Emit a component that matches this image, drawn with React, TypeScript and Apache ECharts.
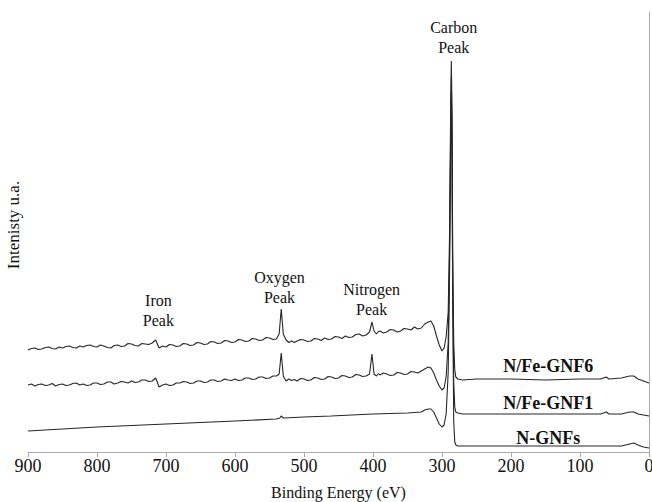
import React, { useEffect, useRef } from "react";
import * as echarts from "echarts";

// Binding energy (eV) / intensity (a.u., offset traces)
const gnf6: [number, number][] = [
  [900, 102], [895, 103.5], [890, 104], [885, 102.5], [880, 103], [875, 104.5], [870, 105], [865, 103.5],
  [860, 103], [855, 105], [850, 104], [845, 105.5], [840, 106], [835, 104.5], [830, 104], [825, 106],
  [820, 105], [815, 106.5], [810, 107], [805, 105.5], [800, 105], [795, 107], [790, 106], [785, 104.5],
  [780, 104], [775, 106.5], [770, 107], [765, 105.5], [760, 106], [755, 108.5], [750, 108], [745, 106.5],
  [740, 106], [735, 108.5], [730, 108], [725, 107.5], [720, 109], [715, 112], [710, 104], [705, 106],
  [700, 105], [695, 107.5], [690, 107], [685, 105.5], [680, 106], [675, 108.5], [670, 108], [665, 106.5],
  [660, 107], [655, 109.5], [650, 109], [645, 107.5], [640, 108], [635, 110.5], [630, 110], [625, 108.5],
  [620, 109], [615, 111.5], [610, 111], [605, 109.5], [600, 110], [595, 112.5], [590, 112], [585, 110.5],
  [580, 111], [575, 113.5], [570, 113], [565, 111.5], [560, 112], [555, 114.5], [550, 114], [545, 112.5],
  [540, 113], [536, 118], [533, 143], [530, 118], [526, 112], [522, 109.5], [518, 111], [514, 109.5],
  [510, 111], [505, 112.5], [500, 112], [495, 110.5], [490, 111], [485, 113.5], [480, 113], [475, 111.5],
  [470, 114], [465, 112.5], [460, 113], [455, 115.5], [450, 115], [445, 113.5], [440, 116], [435, 114.5],
  [430, 115], [425, 117.5], [420, 118], [415, 116], [410, 117], [405, 120], [401.5, 130], [398.5, 121],
  [395, 118], [392, 120.5], [390, 121], [385, 119], [380, 120], [375, 122.5], [370, 122], [365, 120],
  [360, 121], [355, 123.5], [350, 123], [345, 122], [340, 125], [335, 123], [330, 124], [325, 128],
  [320, 130], [316, 131], [312, 126], [308, 116], [304, 107], [300, 101], [297, 104], [294, 115],
  [291, 140], [289, 220], [287.5, 340], [286.5, 391], [285.5, 340], [284.5, 200], [283, 110], [281.5, 82],
  [280, 75], [277, 73], [270, 72], [250, 73], [200, 73], [150, 72], [100, 73], [70, 73], [62, 75],
  [58, 73], [40, 74], [28, 76], [22, 76], [16, 73], [8, 71], [0, 69],
];

const gnf1: [number, number][] = [
  [900, 67], [895, 68], [890, 66], [885, 67.5], [880, 68], [875, 66.5], [870, 67], [865, 68.5],
  [860, 66], [855, 67.5], [850, 68], [845, 66.5], [840, 67], [835, 68.5], [830, 69], [825, 67],
  [820, 68], [815, 66.5], [810, 67], [805, 69], [800, 69], [795, 67.5], [790, 68], [785, 70],
  [780, 70], [775, 68], [770, 69], [765, 70.5], [760, 70], [755, 69], [750, 71], [745, 69.5],
  [740, 70], [735, 72], [730, 72], [725, 70.5], [720, 71], [715, 74], [710, 65], [705, 67],
  [700, 68], [695, 66.5], [690, 67], [685, 69], [680, 69], [675, 70.5], [670, 70], [665, 68.5],
  [660, 69], [655, 71], [650, 71], [645, 69.5], [640, 70], [635, 72], [630, 72], [625, 70.5],
  [620, 71], [615, 73], [610, 72], [605, 71.5], [600, 73], [595, 71.5], [590, 72], [585, 74],
  [580, 74], [575, 72.5], [570, 73], [565, 75], [560, 75], [555, 73.5], [550, 74], [545, 76],
  [540, 76], [536, 78], [533, 99], [530, 76], [526, 71], [522, 73], [518, 71.5], [514, 72.5],
  [510, 71], [505, 73.5], [500, 73], [495, 71.5], [490, 72], [485, 74.5], [480, 74], [475, 72.5],
  [470, 73], [465, 75.5], [460, 75], [455, 73.5], [450, 74], [445, 76.5], [440, 76], [435, 74.5],
  [430, 75], [425, 77.5], [420, 77], [415, 75.5], [410, 76], [405, 78], [401.5, 98], [398.5, 78],
  [395, 76], [392, 78.5], [390, 77], [385, 79], [380, 78], [375, 76.5], [370, 77], [365, 79.5],
  [360, 79], [355, 77.5], [350, 78], [345, 80.5], [340, 80], [335, 79], [330, 81], [325, 83],
  [320, 85], [316, 84], [312, 79], [308, 72], [304, 66], [300, 62], [297, 64], [294, 75],
  [291, 110], [289, 200], [287.5, 320], [286.5, 375], [285.5, 320], [284.5, 170], [283, 70], [281.5, 45],
  [280, 40], [277, 39], [270, 38], [250, 38], [200, 38], [150, 38], [100, 38], [70, 38], [62, 40],
  [58, 38], [40, 38], [28, 40], [22, 40], [16, 38], [8, 37], [0, 36],
];

const ngnfs: [number, number][] = [
  [900, 21], [850, 23], [800, 25], [750, 26.5], [700, 28], [650, 29.5], [600, 31], [540, 33],
  [535, 34], [533, 36], [530, 34], [500, 35], [461, 36], [400, 38], [350, 39], [330, 40],
  [325, 42], [320, 43], [316, 43], [312, 40], [308, 34], [304, 28], [300, 25], [297, 27],
  [294, 38], [291, 80], [289, 180], [287.5, 300], [286.5, 360], [285.5, 300], [284.5, 150],
  [283, 30], [281.5, 10], [280, 7], [277, 6], [200, 6], [100, 6], [40, 6], [28, 8], [22, 9],
  [16, 7], [8, 5], [0, 4],
];

const xTicks = [0, 100, 200, 300, 400, 500, 600, 700, 800, 900];

const peakLabels = [
  { text: "Carbon\nPeak", coord: [283, 415] },
  { text: "Oxygen\nPeak", coord: [535.5, 165] },
  { text: "Iron\nPeak", coord: [711, 142] },
  { text: "Nitrogen\nPeak", coord: [402, 153] },
];

const seriesLabels = [
  { text: "N/Fe-GNF6", coord: [146, 86] },
  { text: "N/Fe-GNF1", coord: [146, 49] },
  { text: "N-GNFs", coord: [146, 14] },
];

const FONT = "Liberation Serif";

export default function App() {
  const ref = useRef<HTMLDivElement>(null);
  useEffect(() => {
    if (!ref.current) return;
    const chart = echarts.init(ref.current, undefined, { renderer: "svg" });
    const lineStyle = { color: "#262626", width: 1.1 };
    const mk = (arr: { text: string; coord: number[] }[], bold: boolean, size: number) => ({
      symbol: "circle",
      symbolSize: 1,
      itemStyle: { color: "rgba(0,0,0,0)" },
      silent: true,
      label: {
        show: true,
        position: "inside",
        formatter: (p: any) => p.name,
        color: "#111",
        fontFamily: FONT,
        fontSize: size,
        fontWeight: bold ? "bold" : "normal",
        lineHeight: 20,
        align: "center",
      },
      data: arr.map((d) => ({ name: d.text, coord: d.coord })),
    });
    chart.setOption({
      animation: false,
      backgroundColor: "#fff",
      textStyle: { fontFamily: FONT },
      grid: { left: 28, right: 3, top: 12, bottom: 50, outerBoundsMode: "none", containLabel: false },
      xAxis: {
        type: "value",
        inverse: true,
        min: 0,
        max: 900,
        interval: 100,
        name: "Binding Energy (eV)",
        nameLocation: "middle",
        nameGap: 32,
        nameTextStyle: { fontFamily: FONT, fontSize: 16, color: "#111" },
        axisLine: { show: true, lineStyle: { color: "#aaa", width: 1 } },
        axisTick: { show: true, length: 5, lineStyle: { color: "#aaa" } },
        axisLabel: {
          margin: 5,
          fontFamily: FONT,
          fontSize: 18,
          color: "#111",
          customValues: xTicks,
          formatter: (v: number) => String(v),
        },
        splitLine: { show: false },
      },
      yAxis: {
        type: "value",
        min: 0,
        max: 440,
        name: "Intenisty u.a.",
        nameLocation: "middle",
        nameRotate: 90,
        nameGap: 6,
        nameTextStyle: { fontFamily: FONT, fontSize: 17, color: "#111", padding: [0, 0, 0, 14] },
        axisLine: { show: true, lineStyle: { color: "#aaa", width: 1 } },
        axisTick: { show: false },
        axisLabel: { show: false },
        splitLine: { show: false },
      },
      series: [
        {
          name: "N/Fe-GNF6",
          type: "line",
          data: gnf6,
          showSymbol: false,
          lineStyle,
          markPoint: mk(peakLabels, false, 16),
        },
        {
          name: "N/Fe-GNF1",
          type: "line",
          data: gnf1,
          showSymbol: false,
          lineStyle,
          markPoint: mk(seriesLabels, true, 18),
        },
        {
          name: "N-GNFs",
          type: "line",
          data: ngnfs,
          showSymbol: false,
          lineStyle,
        },
      ],
    });
    return () => chart.dispose();
  }, []);
  return <div ref={ref} style={{ width: 652, height: 502, position: "absolute", left: 0, top: 0 }} />;
}
